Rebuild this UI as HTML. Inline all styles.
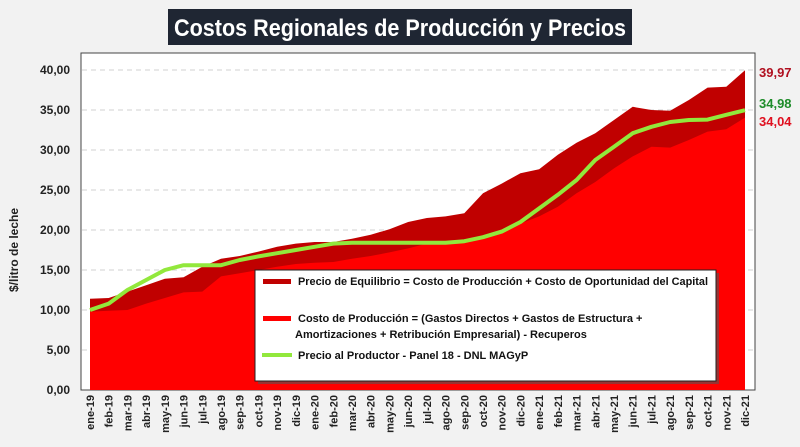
<!DOCTYPE html>
<html><head><meta charset="utf-8"><style>
html,body{margin:0;padding:0;background:#f2f2f2;}
svg{display:block;font-family:"Liberation Sans",sans-serif;}
</style></head><body>
<svg id="c" width="800" height="447" viewBox="0 0 800 447">
<rect x="0" y="0" width="800" height="447" fill="#f2f2f2"/>
<rect x="168" y="9" width="464" height="36" fill="#1f2633"/>
<text x="400" y="36" text-anchor="middle" fill="#fff" font-size="24" font-weight="bold" textLength="452" lengthAdjust="spacingAndGlyphs">Costos Regionales de Producción y Precios</text>
<rect x="81" y="53" width="674" height="337" fill="#fff" stroke="#444" stroke-width="1"/>
<g id="grid"></g><g id="areas"></g><g id="yt"></g><g id="xt"></g>
<text transform="translate(18,250) rotate(-90)" text-anchor="middle" font-size="12" font-weight="bold" fill="#222">$/litro de leche</text>
<g>
<rect x="258" y="273" width="461" height="111" fill="#555" opacity="0.6"/>
<rect x="255" y="270" width="461" height="111" fill="#fff" stroke="#222" stroke-width="1"/>
<rect x="263" y="279" width="28" height="5" fill="#c00000"/>
<text x="298" y="285" font-size="11" font-weight="bold" fill="#111" textLength="410" lengthAdjust="spacingAndGlyphs">Precio de Equilibrio = Costo de Producción + Costo de Oportunidad del Capital</text>
<rect x="263" y="316" width="28" height="5" fill="#ff0000"/>
<text x="298" y="322" font-size="11" font-weight="bold" fill="#111">Costo de Producción = (Gastos Directos + Gastos de Estructura +</text>
<text x="295" y="338" font-size="11" font-weight="bold" fill="#111">Amortizaciones + Retribución Empresarial) - Recuperos</text>
<rect x="262" y="353" width="30" height="4" fill="#92e83c"/>
<text x="298" y="359" font-size="11" font-weight="bold" fill="#111">Precio al Productor - Panel 18 - DNL MAGyP</text>
</g>
<text x="759" y="77" font-size="13" font-weight="bold" fill="#b01020">39,97</text>
<text x="759" y="108" font-size="13" font-weight="bold" fill="#1e8c2a">34,98</text>
<text x="759" y="126" font-size="13" font-weight="bold" fill="#e01020">34,04</text>
</svg>
<script>
const months=["ene-19","feb-19","mar-19","abr-19","may-19","jun-19","jul-19","ago-19","sep-19","oct-19","nov-19","dic-19","ene-20","feb-20","mar-20","abr-20","may-20","jun-20","jul-20","ago-20","sep-20","oct-20","nov-20","dic-20","ene-21","feb-21","mar-21","abr-21","may-21","jun-21","jul-21","ago-21","sep-21","oct-21","nov-21","dic-21"];
const equilibrio=[11.4,11.5,12.3,13.1,13.9,14.1,15.4,16.4,16.75,17.3,17.9,18.3,18.5,18.5,18.9,19.4,20.1,21.0,21.5,21.7,22.1,24.6,25.8,27.1,27.6,29.4,30.9,32.1,33.75,35.4,35.0,34.9,36.25,37.8,37.9,39.97];
const costo=[9.8,9.9,10.0,10.8,11.5,12.2,12.3,14.2,14.6,15.0,15.4,15.75,15.9,16.0,16.4,16.75,17.2,17.7,18.3,18.5,18.8,19.2,20.0,20.8,21.7,22.9,24.6,26.0,27.7,29.2,30.4,30.3,31.25,32.3,32.6,34.04];
const precio=[10.0,10.8,12.5,13.75,15.0,15.6,15.6,15.6,16.25,16.7,17.1,17.5,17.9,18.3,18.4,18.4,18.4,18.4,18.4,18.4,18.6,19.1,19.8,21.0,22.7,24.4,26.25,28.75,30.4,32.1,32.9,33.5,33.75,33.8,34.4,34.98];
const yTicks=[0,5,10,15,20,25,30,35,40];
const NS="http://www.w3.org/2000/svg";
const X=i=>90+i*(745-90)/(months.length-1);
const Y=v=>390-v*8;
function mk(t,a,p){const e=document.createElementNS(NS,t);for(const k in a)e.setAttribute(k,a[k]);p.appendChild(e);return e;}
const grid=document.getElementById('grid'),yt=document.getElementById('yt'),xt=document.getElementById('xt'),areas=document.getElementById('areas');
yTicks.forEach(v=>{
  if(v>0){const l=mk('line',{x1:82,x2:754,y1:Y(v),y2:Y(v),stroke:'#d0d0d0','stroke-dasharray':'5,4'},grid);
  
  }
  const t=mk('text',{x:70,y:Y(v)+4,'text-anchor':'end','font-size':12,'font-weight':'bold',fill:'#222'},yt);
  t.textContent=v.toFixed(2).replace('.',',');
  
  
});
function area(vals,fill,name){
  let d='M'+X(0)+','+Y(0);
  vals.forEach((v,i)=>d+=' L'+X(i)+','+Y(v));
  d+=' L'+X(vals.length-1)+','+Y(0)+' Z';
  const p=mk('path',{d:d,fill:fill},areas);
  
  
}
area(equilibrio,'#c00000','area-equilibrio');
area(costo,'#ff0000','area-costo');
const ln=mk('polyline',{points:precio.map((v,i)=>X(i)+','+Y(v)).join(' '),fill:'none',stroke:'#92e83c','stroke-width':4,'stroke-linejoin':'round'},areas);


months.forEach((m,i)=>{
  const t=mk('text',{transform:'translate('+(X(i)+4)+',395) rotate(-90)','text-anchor':'end','font-size':11,'font-weight':'bold',fill:'#222'},xt);
  t.textContent=m;
  
  
});
</script>
</body></html>
